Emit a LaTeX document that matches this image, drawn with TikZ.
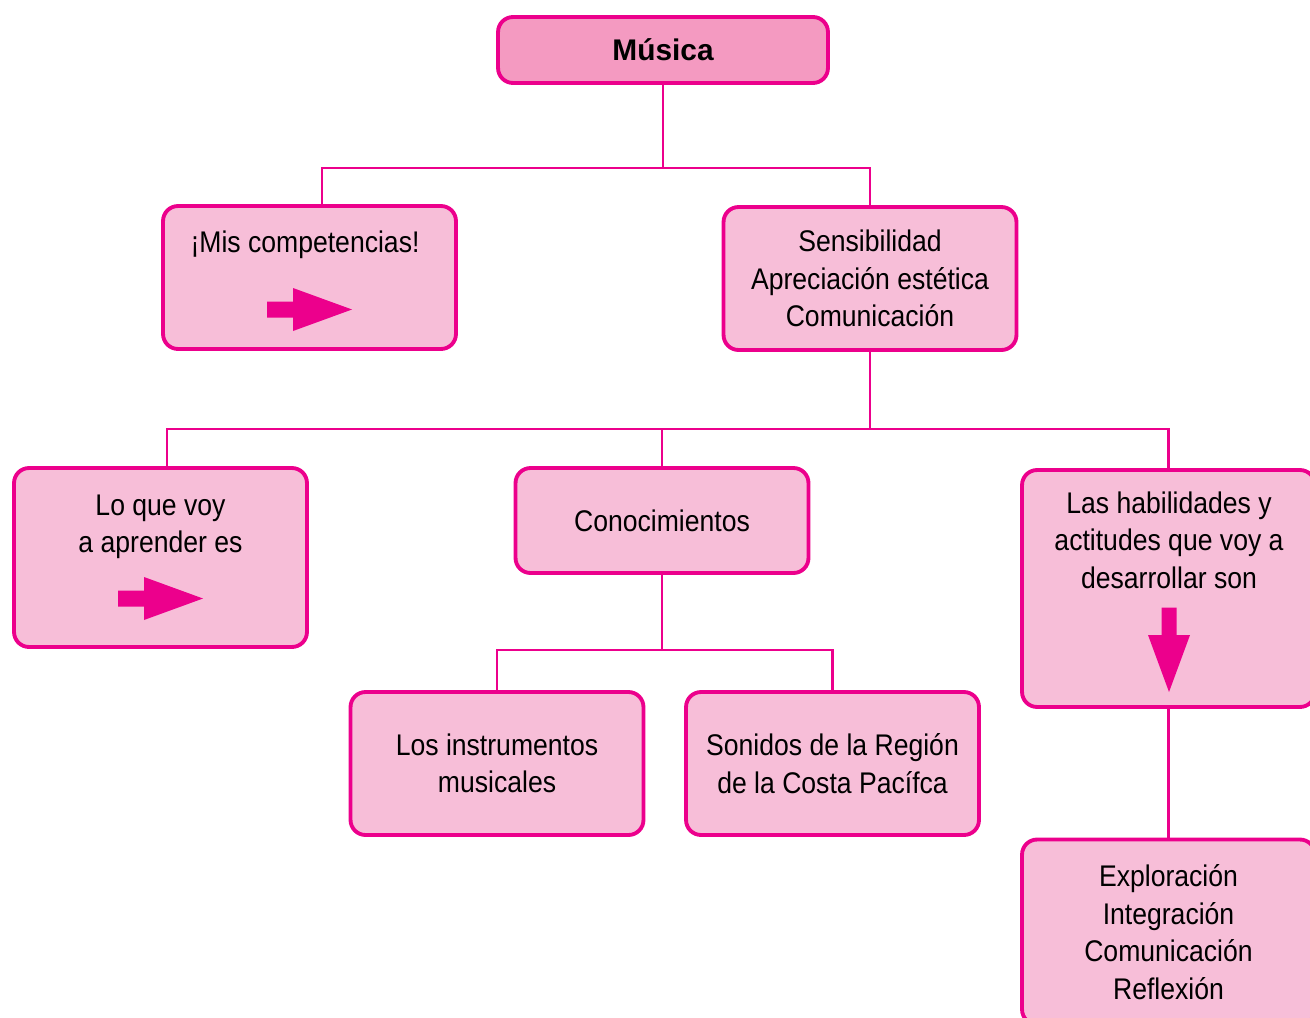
\documentclass[tikz,border=0pt]{standalone}
\usepackage{fontspec}
\setmainfont{Liberation Sans}[FakeStretch=0.89]
\newfontfamily\titlefont{Liberation Sans}
\definecolor{mag}{HTML}{EC008C}
\definecolor{boxfill}{HTML}{F7BED8}
\definecolor{topfill}{HTML}{F49AC1}
\begin{document}
\begin{tikzpicture}[x=0.02cm,y=-0.02cm,
  box/.style={draw=mag, line width=2.2pt, fill=boxfill, rounded corners=0.3cm,
    inner sep=0pt, align=center, minimum width=5.86cm,
    font=\fontsize{17}{21.3}\selectfont},
  txt/.style={inner sep=0pt, align=center, font=\fontsize{17}{21.3}\selectfont},
  link/.style={draw=mag, line width=1.5pt},
  arrowfill/.style={fill=mag, draw=none}]
\useasboundingbox (0,0) rectangle (1310,1017);
\begin{scope}
\clip (0,0) rectangle (1310,1017);
% boxes
\node[box, fill=topfill, minimum width=6.6cm, minimum height=1.32cm,
  font=\titlefont\bfseries\fontsize{17}{21.3}\selectfont] (musica) at (663,50) {Música};
\node[box, minimum height=2.86cm] (comp) at (309.5,277.5) {};
\node[box, minimum height=2.86cm] (sens) at (870,278.5) {Sensibilidad\\Apreciación estética\\Comunicación};
\node[box, minimum height=3.58cm] (lo) at (160.5,557.5) {};
\node[box, minimum height=2.1cm] (cono) at (662,520.5) {Conocimientos};
\node[box, minimum height=4.74cm] (hab) at (1168.5,588.5) {};
\node[box, minimum height=2.86cm] (instr) at (497,763.5) {Los instrumentos\\musicales};
\node[box, minimum height=2.86cm] (son) at (832.5,763.5) {Sonidos de la Región\\de la Costa Pacífca};
\node[box, minimum height=3.7cm] (expl) at (1168.5,932) {Exploración\\Integración\\Comunicación\\Reflexión};
% texts inside boxes with arrows
\node[txt] (comptxt) at (305,245) {¡Mis competencias!};
\node[txt] (lotxt) at (160.5,527) {Lo que voy\\a aprender es};
\node[txt] (habtxt) at (1169,540) {Las habilidades y\\actitudes que voy a\\desarrollar son};
% arrows
\fill[arrowfill] (267,301.5) -- (293,301.5) -- (293,288) -- (352,309.5) -- (293,331) -- (293,317.5) -- (267,317.5) -- cycle;
\begin{scope}[shift={(-149,289)}]
\fill[arrowfill] (267,301.5) -- (293,301.5) -- (293,288) -- (352,309.5) -- (293,331) -- (293,317.5) -- (267,317.5) -- cycle;
\end{scope}
\fill[arrowfill] (1161.5,607.5) -- (1176.5,607.5) -- (1176.5,635) -- (1190,635) -- (1169,692) -- (1148,635) -- (1161.5,635) -- cycle;
% connectors
\draw[link] (musica.south) -- ++(0,83) coordinate (j1);
\draw[link] ([xshift=0.25cm]comp.north) |- (j1) -| (sens.north);
\draw[link] (sens.south) -- ++(0,77) coordinate (j2);
\draw[link] ([xshift=0.13cm]lo.north) |- (j2) -| (hab.north);
\draw[link] (cono.north) -- (cono.north |- j2);
\draw[link] (cono.south) -- ++(0,75) coordinate (j3);
\draw[link] (instr.north) |- (j3) -| (son.north);
\draw[link] (hab.south) -- (expl.north);
\end{scope}
\end{tikzpicture}
\end{document}
